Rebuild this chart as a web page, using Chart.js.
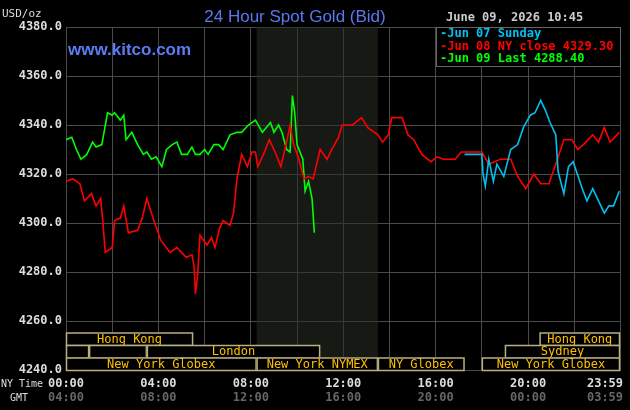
<!DOCTYPE html>
<html>
<head>
<meta charset="utf-8">
<script src="https://cdn.jsdelivr.net/npm/chart.js@4/dist/chart.umd.min.js"></script>
<style>
  html, body { margin: 0; padding: 0; background: #000; }
  #wrap { width: 630px; height: 410px; position: relative; }
</style>
</head>
<body>
<div id="wrap"><canvas id="goldChart" width="630" height="410"></canvas></div>
<script>
const redHours = [0,0.3,0.6,0.8,1.1,1.3,1.5,1.6,1.7,2.0,2.1,2.35,2.5,2.7,3.1,3.3,3.5,3.7,4.1,4.5,4.8,5.0,5.2,5.45,5.55,5.6,5.7,5.8,6.1,6.3,6.45,6.65,6.8,7.1,7.25,7.4,7.6,7.85,8.05,8.2,8.3,8.55,8.8,9.05,9.3,9.55,9.7,9.85,10.05,10.3,10.5,10.7,11.0,11.3,11.5,11.8,11.95,12.4,12.8,13.05,13.5,13.7,13.95,14.1,14.55,14.8,15.05,15.4,15.8,16.05,16.35,16.85,17.1,18.0,18.3,18.8,19.25,19.55,19.9,20.25,20.55,20.9,21.2,21.55,21.9,22.15,22.4,22.8,23.05,23.3,23.55,23.95];
const redPrices = [4317,4318,4316,4309,4312,4307,4310,4300,4288,4290,4301,4302,4307,4296,4297,4302,4310,4304,4293,4288,4290,4288,4286,4287,4282,4271,4279,4295,4291,4294,4290,4298,4301,4299,4304,4318,4328,4323,4329,4329,4323,4328,4334,4329,4323,4333,4340,4332,4327,4318,4319,4318,4330,4326,4330,4335,4340,4340,4343,4339,4336,4333,4336,4343,4343,4336,4334,4328,4325,4327,4326,4326,4329,4329,4324,4326,4326,4319,4314,4320,4316,4316,4324,4334,4334,4330,4332,4336,4333,4339,4333,4337];

const blueHours = [17.25,18.0,18.05,18.15,18.3,18.5,18.65,18.95,19.25,19.55,19.8,20.1,20.3,20.55,20.75,20.95,21.2,21.3,21.55,21.75,21.95,22.35,22.55,22.8,23.05,23.3,23.5,23.7,23.95];
const bluePrices = [4328,4328,4320,4315,4326,4317,4324,4319,4330,4332,4339,4344,4345,4350,4346,4341,4336,4321,4312,4323,4325,4314,4309,4314,4309,4304,4307,4307,4313];

const greenHours = [0,0.25,0.45,0.65,0.9,1.15,1.3,1.55,1.8,2.0,2.1,2.35,2.5,2.6,2.85,3.1,3.35,3.5,3.7,3.9,4.15,4.35,4.6,4.8,5.0,5.25,5.45,5.6,5.8,6.0,6.15,6.4,6.6,6.8,7.1,7.4,7.6,7.9,8.2,8.5,8.85,9.0,9.2,9.35,9.55,9.7,9.8,9.9,10.0,10.25,10.35,10.5,10.65,10.75];
const greenPrices = [4334,4335,4330,4326,4328,4333,4331,4332,4345,4344,4345,4342,4344,4334,4337,4332,4328,4329,4326,4327,4323,4330,4332,4333,4328,4328,4331,4328,4328,4330,4328,4332,4332,4330,4336,4337,4337,4340,4342,4337,4341,4337,4340,4337,4330,4329,4352,4345,4332,4326,4313,4317,4310,4296];

const nyTimeLabels = ["00:00","04:00","08:00","12:00","16:00","20:00","23:59"];
const gmtLabels = ["04:00","08:00","12:00","16:00","20:00","00:00","03:59"];
const labelHours = [0,4,8,12,16,20,23.98];

const legendLines = [
  ["-Jun 07 Sunday", "#00c0f0"],
  ["-Jun 08 NY close 4329.30", "#ff0000"],
  ["-Jun 09 Last 4288.40", "#00ff00"]
];

// market sessions: [row, startHour, endHour, name]
const sessions = [
  [0, 0, 5.5, "Hong Kong"], [0, 20.5, 23.98, "Hong Kong"],
  [1, 0, 1, ""], [1, 1, 3.5, ""], [1, 3.5, 11, "London"], [1, 19, 23.98, "Sydney"],
  [2, 0, 8.25, "New York Globex"], [2, 8.25, 13.5, "New York NYMEX"],
  [2, 13.5, 17.25, "NY Globex"], [2, 18, 23.98, "New York Globex"]
];
const shadeStart = 8.25, shadeEnd = 13.5;

const toPoints = (hs, vs) => hs.map((h, i) => ({ x: h, y: vs[i] }));
const MONO = "'DejaVu Sans Mono', monospace";

const decorPlugin = {
  id: "decor",
  beforeDatasetsDraw(chart) {
    const { ctx, chartArea: a, scales: { x } } = chart;
    ctx.save();
    ctx.fillStyle = "rgba(40,46,36,0.55)";
    ctx.fillRect(x.getPixelForValue(shadeStart), a.top, x.getPixelForValue(shadeEnd) - x.getPixelForValue(shadeStart), a.bottom - a.top);
    ctx.restore();
  },
  afterDatasetsDraw(chart) {
    const { ctx, chartArea: a, scales: { x } } = chart;
    ctx.save();
    // session bars
    const rowH = 12.5;
    ctx.font = "12px " + MONO;
    ctx.textAlign = "center";
    ctx.textBaseline = "middle";
    sessions.forEach(([row, s, e, name]) => {
      const x0 = x.getPixelForValue(s), x1 = x.getPixelForValue(e);
      const y0 = a.bottom - rowH * (3 - row);
      ctx.fillStyle = "#000";
      ctx.fillRect(x0, y0, x1 - x0, rowH);
      ctx.strokeStyle = "#b8b080";
      ctx.lineWidth = 1.5;
      ctx.strokeRect(x0 + 0.5, y0 + 0.5, x1 - x0 - 1, rowH);
      ctx.fillStyle = "#ffc000";
      ctx.fillText(name, (x0 + x1) / 2, y0 + rowH / 2 + 1);
    });
    // legend box
    ctx.fillStyle = "#000";
    ctx.fillRect(436, 27, 184, 39);
    ctx.strokeStyle = "#666";
    ctx.lineWidth = 1;
    ctx.strokeRect(436.5, 27.5, 184, 39);
    ctx.font = "bold 12px " + MONO;
    ctx.textAlign = "left";
    legendLines.forEach(([t, c], i) => {
      ctx.fillStyle = c;
      ctx.fillText(t, 440, 34 + i * 12.5);
    });
    // x labels
    ctx.textAlign = "center";
    labelHours.forEach((h, i) => {
      let px = x.getPixelForValue(h);
      if (i === labelHours.length - 1) px -= 15;
      ctx.font = "bold 12px " + MONO;
      ctx.fillStyle = "#ddd";
      ctx.fillText(nyTimeLabels[i], px, a.bottom + 14);
      ctx.fillStyle = "#666";
      ctx.fillText(gmtLabels[i], px, a.bottom + 28);
    });
    ctx.font = "10px " + MONO;
    ctx.fillStyle = "#ddd";
    ctx.textAlign = "left";
    ctx.fillText("NY Time", 1, a.bottom + 14);
    ctx.fillText("GMT", 10, a.bottom + 28);
    // titles
    ctx.textBaseline = "alphabetic";
    ctx.font = "11px " + MONO;
    ctx.fillText("USD/oz", 2, 17);
    ctx.font = "bold 12px " + MONO;
    ctx.fillStyle = "#ccc";
    ctx.fillText("June 09, 2026 10:45", 446, 21);
    ctx.font = "17px 'Liberation Sans', Arial, sans-serif";
    ctx.fillStyle = "#5a78f0";
    ctx.textAlign = "center";
    ctx.fillText("24 Hour Spot Gold (Bid)", 295, 22);
    ctx.font = "bold 17px 'Liberation Sans', Arial, sans-serif";
    ctx.fillStyle = "#5b7cf5";
    ctx.textAlign = "left";
    ctx.fillText("www.kitco.com", 68, 55);
    ctx.restore();
  }
};

const line = (label, data, color) => ({
  label, data, borderColor: color, borderWidth: 1.6,
  pointRadius: 0, tension: 0, fill: false
});

new Chart(document.getElementById("goldChart").getContext("2d"), {
  type: "line",
  data: {
    datasets: [
      line("Jun 07 Sunday", toPoints(blueHours, bluePrices), "#00c0f0"),
      line("Jun 08 NY close", toPoints(redHours, redPrices), "#ff0000"),
      line("Jun 09 Last", toPoints(greenHours, greenPrices), "#00ff00")
    ]
  },
  options: {
    responsive: false,
    animation: false,
    layout: { padding: { top: 27, right: 10, left: 0, bottom: 0 } },
    plugins: { legend: { display: false }, tooltip: { enabled: false } },
    scales: {
      x: {
        type: "linear", min: 0, max: 23.98,
        afterBuildTicks: s => { s.ticks = [0,2,4,6,8,10,12,14,16,18,20,22,23.98].map(v => ({ value: v })); },
        afterFit: s => { s.height = 40; },
        ticks: { display: false },
        grid: { color: "#4a4a4a", lineWidth: 1, drawTicks: false },
        border: { color: "#4a4a4a" }
      },
      y: {
        min: 4240, max: 4380,
        afterFit: s => { s.width = 66; },
        ticks: {
          stepSize: 20, padding: 4, color: "#ddd",
          font: { family: "DejaVu Sans Mono", size: 12, weight: "bold" },
          callback: v => v.toFixed(1)
        },
        grid: { color: "#4a4a4a", lineWidth: 1, drawTicks: false },
        border: { color: "#4a4a4a" }
      }
    }
  },
  plugins: [decorPlugin]
});
</script>
</body>
</html>
